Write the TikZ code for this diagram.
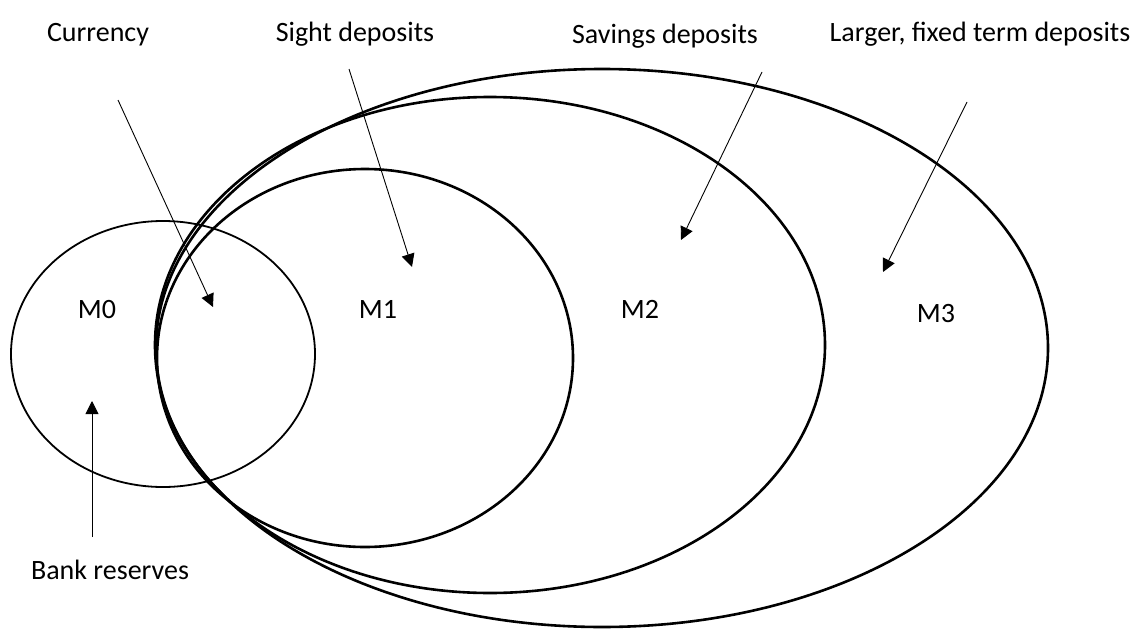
\documentclass[tikz,border=0pt]{standalone}
\usepackage{fontspec}
\setmainfont{Carlito}
\usetikzlibrary{arrows.meta}
\begin{document}
\begin{tikzpicture}[x=1pt,y=-1pt,
  setline/.style={line width=2.6pt},
  setlinethin/.style={line width=1.8pt},
  lbl/.style={font=\fontsize{28}{32}\selectfont, inner sep=0pt, anchor=base},
  pointer/.style={line width=0.9pt, -{Triangle[length=13pt,width=13pt]}}]
\useasboundingbox (0,0) rectangle (1138,629);
% sets
\coordinate (c0) at (163,354);
\coordinate (c1) at (365,358);
\coordinate (c2) at (490,345);
\coordinate (c3) at (602,348);
\draw[setlinethin] (c0) ellipse [x radius=152, y radius=133];
\draw[setline] (c1) ellipse [x radius=208, y radius=189];
\draw[setline] (c2) ellipse [x radius=335, y radius=248];
\draw[setline] (c3) ellipse [x radius=446, y radius=279];
% set labels
\node[lbl] (m0) at (97,318) {M0};
\node[lbl] (m1) at (378,318) {M1};
\node[lbl] (m2) at (640,318) {M2};
\node[lbl] (m3) at (936,322) {M3};
% outer labels
\node[lbl] (cur) at (98,41) {Currency};
\node[lbl] (sig) at (355,41) {Sight deposits};
\node[lbl] (sav) at (665,43) {Savings deposits};
\node[lbl] (lar) at (980,41) {Larger, fixed term deposits};
\node[lbl] (bank) at (110,579) {Bank reserves};
% arrow ends
\coordinate (curS) at (118,100);
\coordinate (curT) at (213,307);
\coordinate (sigS) at (349,69);
\coordinate (sigT) at (412,267);
\coordinate (savS) at (762,72);
\coordinate (savT) at (681,240);
\coordinate (larS) at (967,102);
\coordinate (larT) at (883,272);
\coordinate (bankS) at (92,537);
\coordinate (bankT) at (92,401);
\draw[pointer] (curS) -- (curT);
\draw[pointer] (sigS) -- (sigT);
\draw[pointer] (savS) -- (savT);
\draw[pointer] (larS) -- (larT);
\draw[pointer] (bankS) -- (bankT);
\end{tikzpicture}
\end{document}
